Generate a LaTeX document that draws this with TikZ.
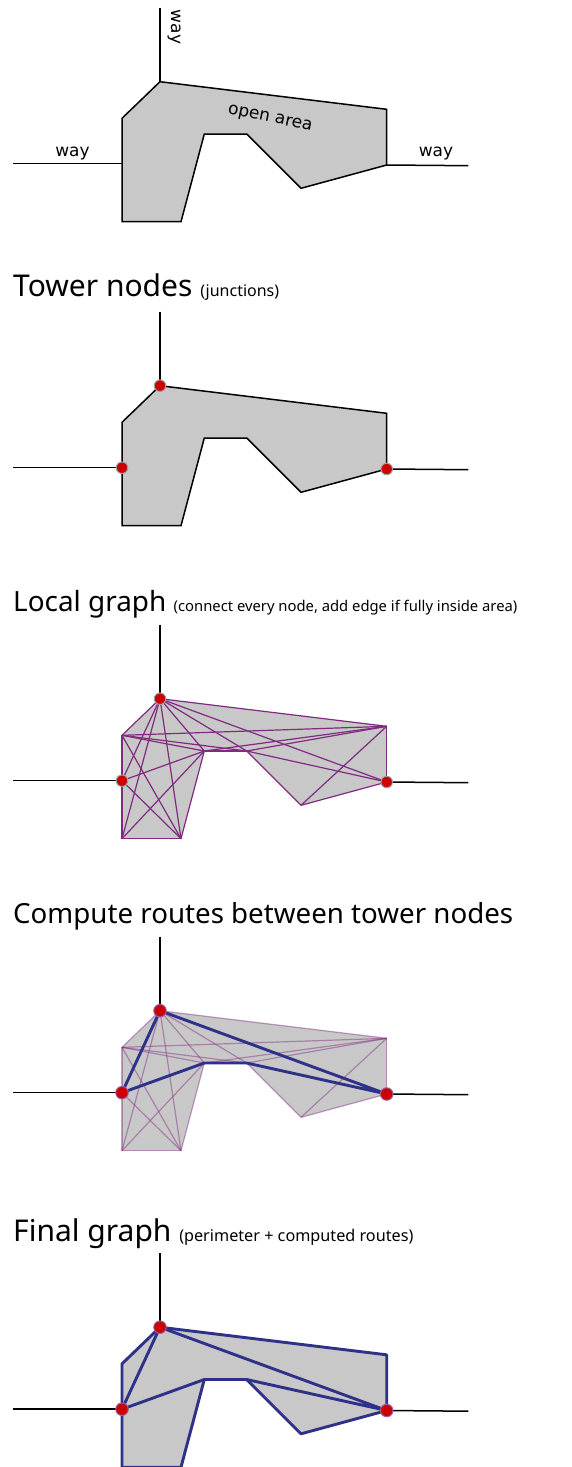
\documentclass[tikz,border=0pt]{standalone}
\usepackage{fontspec}
\setmainfont{Noto Sans}
\newfontfamily\labelfont{DejaVu Sans}
\definecolor{areagray}{HTML}{C8C8C8}
\definecolor{edgepurple}{HTML}{802A80}
\definecolor{routeblue}{HTML}{2E3188}
\definecolor{towerred}{HTML}{CC0000}
\newcommand\mkpts[1]{%
  \coordinate (#1A) at (160,81.7);
  \coordinate (#1B) at (386.7,109.3);
  \coordinate (#1C) at (386.7,165);
  \coordinate (#1D) at (301,188.3);
  \coordinate (#1E) at (246.7,134);
  \coordinate (#1F) at (204.3,134);
  \coordinate (#1G) at (181,221.7);
  \coordinate (#1H) at (122,221.7);
  \coordinate (#1I) at (122,163.7);
  \coordinate (#1J) at (122,118.3);
  \coordinate (#1T) at (160,7.5);
  \coordinate (#1L) at (12.7,163.7);
  \coordinate (#1R) at (468.3,165.7);
}
\newcommand\waysof[1]{%
  \draw[way] (#1T) -- (#1A);
  \draw[way] (#1L) -- (#1I);
  \draw[way] (#1C) -- (#1R);
}
\newcommand\areaof[2][]{%
  \path[area,#1] (#2A) -- (#2B) -- (#2C) -- (#2D) -- (#2E) -- (#2F) -- (#2G) -- (#2H) -- (#2I) -- (#2J) -- cycle;
}
\newcommand\alledges[2]{%
  \foreach \u/\v in {A/B,B/C,C/D,D/E,E/F,F/G,G/H,H/I,I/J,J/A,
                     A/C,A/E,A/F,A/G,A/H,A/I,B/D,B/E,B/F,B/J,C/E,E/J,F/H,F/I,F/J,G/I,G/J}
    \draw[#2] (#1\u) -- (#1\v);
}
\newcommand\fsz[2]{{\fontsize{#1}{#1}\selectfont #2}}
\begin{document}
\begin{tikzpicture}[x=1pt,y=-1pt,
  way/.style={draw=black, line width=1.5pt},
  area/.style={fill=areagray},
  outline/.style={draw=black, line width=1.5pt, line join=miter},
  ledge/.style={draw=edgepurple, line width=1.2pt},
  fedge/.style={draw=edgepurple, draw opacity=0.45, line width=1.2pt},
  route/.style={draw=routeblue, line width=2.9pt, line join=round, line cap=round},
  tower/.style={circle, fill=towerred, draw=gray!75, line width=1pt, inner sep=0pt, minimum size=11.5pt},
  towerp/.style={tower, draw=edgepurple!75, minimum size=12.5pt},
  title/.style={anchor=base west, inner sep=0pt},
  waylabel/.style={inner sep=0pt, font=\labelfont\fontsize{17}{20}\selectfont}
]
\useasboundingbox (0,0) rectangle (571,1467);

% ---------- panel 1 ----------
\begin{scope}
  \mkpts{p1}
  \waysof{p1}
  \areaof[outline]{p1}
  \node[waylabel, anchor=base] (w1) at (72.5,156.5) {way};
  \node[waylabel, anchor=base] (w2) at (436,156.5) {way};
  \node[waylabel, rotate=-90] (w3) at (174,27) {way};
  \node[waylabel, rotate=-12] (oa) at (270,119) {open area};
\end{scope}

% ---------- panel 2 ----------
\node[title] (t2) at (13,296.7) {\fsz{30}{Tower nodes\ }\fsz{16}{(junctions)}};
\begin{scope}[yshift=-304pt]
  \mkpts{p2}
  \waysof{p2}
  \areaof[outline]{p2}
  \node[tower] (p2a) at (p2A) {};
  \node[tower] (p2i) at (p2I) {};
  \node[tower] (p2c) at (p2C) {};
\end{scope}

% ---------- panel 3 ----------
\node[title] (t3) at (13,611.7) {\fsz{27.9}{Local graph\ }\fsz{14.8}{(connect every node, add edge if fully inside area)}};
\begin{scope}[yshift=-617pt]
  \mkpts{p3}
  \waysof{p3}
  \areaof{p3}
  \alledges{p3}{ledge}
  \node[tower] (p3a) at (p3A) {};
  \node[tower] (p3i) at (p3I) {};
  \node[tower] (p3c) at (p3C) {};
\end{scope}

% ---------- panel 4 ----------
\node[title] (t4) at (13,923.3) {\fsz{27.7}{Compute routes between tower nodes}};
\begin{scope}[yshift=-929pt]
  \mkpts{p4}
  \waysof{p4}
  \areaof{p4}
  \alledges{p4}{fedge}
  \draw[route] (p4A) -- (p4I) -- (p4F) -- (p4E) -- (p4C) -- (p4A);
  \node[towerp] (p4a) at (p4A) {};
  \node[towerp] (p4i) at (p4I) {};
  \node[towerp] (p4c) at (p4C) {};
\end{scope}

% ---------- panel 5 ----------
\node[title] (t5) at (13,1241.7) {\fsz{30}{Final graph\ }\fsz{16.2}{(perimeter + computed routes)}};
\begin{scope}[yshift=-1245.5pt]
  \mkpts{p5}
  \waysof{p5}
  \areaof[route]{p5}
  \draw[route] (p5A) -- (p5I) -- (p5F);
  \draw[route] (p5E) -- (p5C) -- (p5A);
  \node[towerp] (p5a) at (p5A) {};
  \node[towerp] (p5i) at (p5I) {};
  \node[towerp] (p5c) at (p5C) {};
\end{scope}
\end{tikzpicture}
\end{document}
